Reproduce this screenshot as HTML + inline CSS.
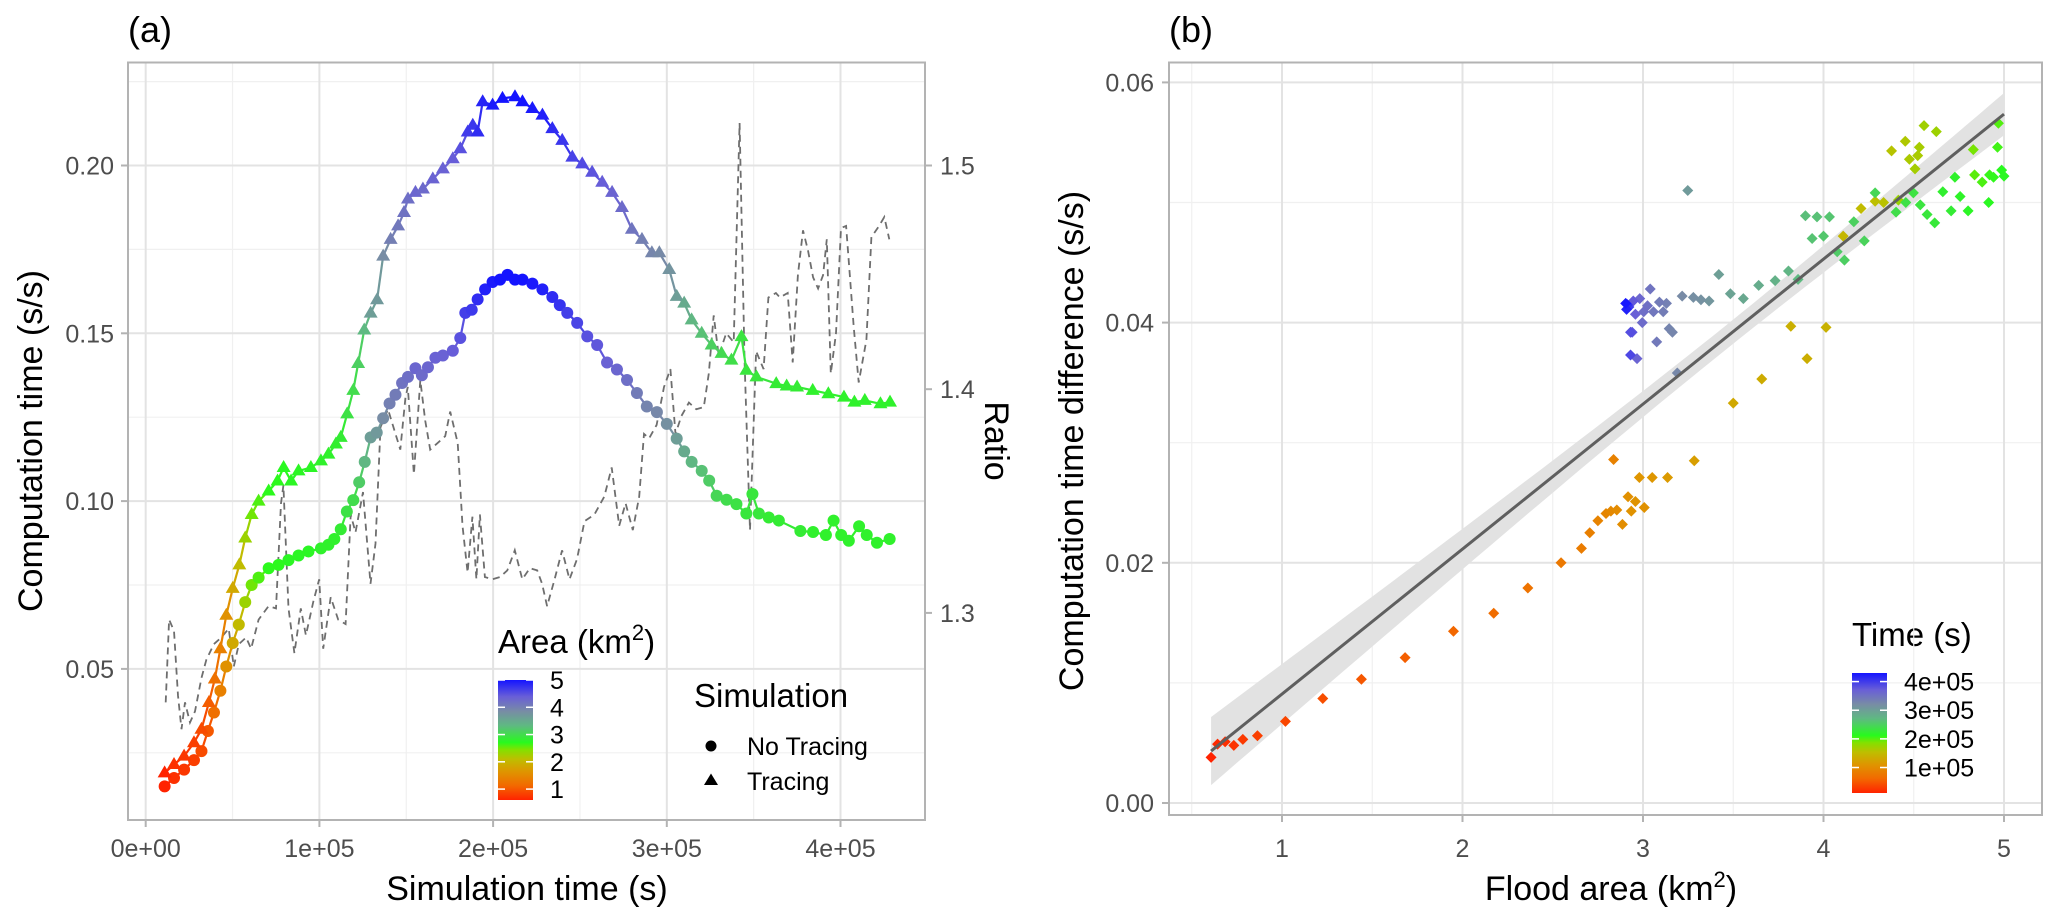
<!DOCTYPE html>
<html><head><meta charset="utf-8"><style>
html,body{margin:0;padding:0;background:#fff;}
svg text{font-family:"Liberation Sans",Arial,sans-serif;}
</style></head><body>
<svg id="fig" width="2067" height="917" viewBox="0 0 2067 917" xmlns="http://www.w3.org/2000/svg">
<defs>
<clipPath id="clipA"><rect x="128" y="62" width="797" height="758"/></clipPath>
<clipPath id="clipB"><rect x="1169" y="62" width="873" height="753"/></clipPath>
<linearGradient id="palGradA" x1="0" y1="1" x2="0" y2="0"></linearGradient>
<linearGradient id="palGradB" x1="0" y1="1" x2="0" y2="0"></linearGradient>
</defs>
<g id="panelA"></g>
<g id="panelB"></g>
</svg>
<script>
// ---------- Panel (a) data (time in 1e3 s) ----------
const noTracingTime = [10.9,16.3,22.1,27.8,32.1,35.8,39.3,43.0,46.4,50.1,53.6,57.3,61.0,65.0,70.8,76.5,82.2,88.0,93.7,100.9,105.2,108.6,112.3,115.8,119.5,122.9,126.1,129.5,133.0,136.7,140.4,143.8,147.6,151.0,155.3,159.0,162.5,166.8,171.1,176.8,181.1,184.0,187.7,191.1,195.4,199.7,204.0,208.3,212.6,216.9,222.6,228.4,234.1,238.4,242.7,248.4,254.2,259.9,265.6,271.3,277.1,282.8,288.5,294.3,300.0,305.7,310.0,314.3,320.1,324.4,328.7,334.4,340.1,345.8,349.3,353.0,358.7,364.5,376.9,384.2,391.6,396.0,400.4,404.8,410.7,415.1,421.0,428.3];
const noTracingValue = [.015,.0175,.020,.0228,.0255,.0315,.037,.0435,.0507,.0577,.0632,.0699,.075,.0772,.080,.081,.0824,.0838,.085,.0859,.087,.0887,.0916,.0969,.1003,.1056,.1117,.119,.1204,.1247,.1291,.1317,.1352,.137,.1396,.1375,.1399,.1427,.1434,.1448,.1486,.1561,.157,.1601,.1631,.1653,.166,.1674,.166,.166,.1648,.1631,.1608,.1584,.1561,.1531,.1491,.1465,.1413,.1392,.1361,.1322,.1282,.1265,.123,.1186,.1148,.1117,.109,.1061,.1016,.1004,.0991,.0963,.1021,.0963,.0951,.0942,.0911,.0908,.0899,.0942,.0899,.0882,.0925,.0899,.0876,.0887];
const areaValue = [0.6,0.7,0.75,0.8,0.9,1.0,1.2,1.4,1.6,1.85,2.05,2.3,2.5,2.6,2.7,2.7,2.75,2.75,2.75,2.8,2.8,2.8,2.85,2.95,3.0,3.15,3.35,3.65,3.7,3.85,4.0,4.05,4.15,4.2,4.3,4.25,4.3,4.35,4.35,4.4,4.5,4.65,4.7,4.8,4.9,4.95,5.0,5.0,5.0,5.0,4.95,4.9,4.8,4.75,4.65,4.6,4.5,4.45,4.35,4.3,4.2,4.05,3.95,3.9,3.8,3.65,3.5,3.35,3.25,3.15,3.05,3.0,2.95,2.9,2.9,2.9,2.85,2.85,2.85,2.8,2.8,2.8,2.8,2.8,2.8,2.8,2.8,2.8];
const tracingTime = [10.9,16.3,22.1,27.8,32.1,36.4,39.8,43.0,46.4,50.1,53.9,57.3,61.0,65.0,70.8,75.9,79.4,83.7,88.0,95.1,100.9,105.2,109.5,112.3,116.0,119.5,122.3,125.8,129.5,133.2,136.7,141.0,145.3,148.7,151.0,155.3,159.6,165.3,171.1,176.8,181.1,185.4,188.3,191.1,194.0,199.7,205.4,212.6,216.9,222.6,228.4,234.1,239.8,245.6,251.3,257.0,262.8,268.5,274.2,279.9,285.7,291.4,295.7,301.4,305.7,310.0,314.3,320.1,325.8,331.5,337.2,343.0,345.8,351.6,363.0,369.0,375.0,384.0,393.0,402.0,408.0,414.0,423.0,428.5];
const tracingValue = [.019,.0215,.024,.028,.032,.040,.047,.056,.066,.074,.081,.089,.096,.100,.103,.106,.110,.106,.109,.110,.112,.114,.117,.119,.126,.133,.141,.151,.156,.160,.173,.178,.182,.186,.190,.192,.193,.196,.199,.202,.205,.210,.212,.210,.219,.218,.220,.2205,.219,.217,.215,.211,.2075,.2025,.2005,.198,.195,.192,.1875,.181,.178,.174,.174,.169,.161,.159,.154,.150,.1465,.144,.142,.149,.139,.137,.135,.1343,.134,.133,.132,.131,.1295,.130,.129,.1295];
const ratioTime = [11.5,13.5,16.3,18.6,20.6,22.6,25.5,28.4,32.1,34.9,39.2,43.5,47.8,50.7,53.6,57.8,60.7,65.0,70.7,75.0,77.9,79.3,82.2,85.6,89.3,92.2,96.5,99.9,102.2,106.5,110.8,115.1,118.0,120.8,125.1,129.4,132.3,135.2,139.5,143.8,146.6,149.5,150.9,154.4,158.1,160.9,163.8,168.1,172.4,175.3,179.6,182.4,185.3,188.1,190.4,192.4,195.3,199.6,203.9,208.2,212.5,216.8,221.1,225.4,228.2,231.1,235.4,239.7,244.0,248.3,252.6,258.3,264.0,268.3,272.6,276.3,280.4,284.1,286.9,289.8,294.1,298.4,302.1,305.0,308.4,312.7,317.0,321.3,324.2,327.0,329.9,334.2,338.5,341.9,344.8,347.9,351.4,355.7,358.5,362.8,365.1,369.6,372.5,375.5,378.4,381.3,384.2,387.1,390.0,392.1,394.4,397.4,400.3,403.2,407.6,410.5,414.9,417.8,422.2,425.2,428.1];
const ratioValue = [1.260,1.297,1.292,1.263,1.248,1.260,1.251,1.256,1.271,1.279,1.286,1.289,1.293,1.276,1.286,1.289,1.284,1.297,1.303,1.302,1.349,1.357,1.302,1.282,1.302,1.290,1.305,1.315,1.284,1.307,1.297,1.295,1.344,1.336,1.354,1.313,1.331,1.383,1.391,1.380,1.373,1.396,1.401,1.362,1.404,1.386,1.373,1.376,1.379,1.390,1.376,1.339,1.318,1.343,1.315,1.344,1.316,1.315,1.316,1.319,1.328,1.315,1.320,1.319,1.313,1.303,1.315,1.328,1.315,1.324,1.341,1.344,1.352,1.365,1.339,1.349,1.337,1.352,1.380,1.378,1.384,1.401,1.409,1.380,1.388,1.394,1.391,1.392,1.407,1.433,1.415,1.425,1.421,1.519,1.412,1.337,1.417,1.409,1.441,1.443,1.441,1.443,1.412,1.451,1.471,1.462,1.450,1.445,1.451,1.467,1.407,1.425,1.472,1.473,1.428,1.403,1.422,1.468,1.473,1.477,1.467];
const xTicksA = [0,100,200,300,400];
const xTickLabelsA = ["0e+00","1e+05","2e+05","3e+05","4e+05"];
const yTicksA = [0.05,0.10,0.15,0.20];
const yTickLabelsA = ["0.05","0.10","0.15","0.20"];
const rTicks = [1.3,1.4,1.5];
const rTickLabels = ["1.3","1.4","1.5"];
const areaLegendTicks = [1,2,3,4,5];

// ---------- Panel (b) data ----------
const floodArea = [0.607,0.643,0.685,0.733,0.783,0.864,1.019,1.226,1.440,1.682,1.950,2.173,2.362,2.546,
2.659,2.705,2.750,2.795,2.822,2.855,2.837,2.886,2.917,2.935,2.958,2.980,3.007,3.051,3.136,3.284,3.500,3.658,3.819,3.909,4.014,4.109,4.208,4.286,4.377,4.453,4.522,4.531,4.476,4.507,4.557,4.625,4.415,4.333,
4.969,4.964,4.830,4.837,4.879,4.920,4.942,4.987,5.000,4.728,4.661,4.757,4.707,4.801,4.915,4.616,4.574,4.536,4.498,4.456,4.402,
4.286,4.168,4.226,4.076,4.116,4.000,3.937,3.900,3.964,4.033,3.859,3.806,3.732,3.641,3.556,3.484,3.420,
3.366,3.321,3.279,3.217,3.248,3.190,
3.145,3.163,3.130,3.112,3.091,3.076,3.058,3.040,3.025,3.004,2.996,2.982,2.967,2.958,2.946,2.940,2.931,2.931,2.922,2.913,2.909,2.904];
const timeDiff = [.0038,.0049,.0051,.0048,.0053,.0056,.0068,.0087,.0103,.0121,.0143,.0158,.0179,.0200,
.0212,.0225,.0235,.0241,.0243,.0244,.0286,.0232,.0255,.0243,.0251,.0271,.0246,.0271,.0271,.0285,.0333,.0353,.0397,.0370,.0396,.0472,.0495,.0501,.0543,.0551,.0539,.0546,.0536,.0528,.0564,.0559,.0502,.0500,
.0566,.0546,.0544,.0523,.0517,.0523,.0521,.0527,.0522,.0521,.0509,.0505,.0493,.0493,.0500,.0483,.0490,.0498,.0508,.0500,.0492,
.0508,.0484,.0468,.0459,.0452,.0472,.0470,.0489,.0488,.0488,.0436,.0443,.0435,.0431,.0420,.0424,.0440,
.0418,.0419,.0421,.0422,.0510,.0358,
.0395,.0392,.0416,.0409,.0417,.0384,.0409,.0428,.0414,.0409,.0400,.0420,.0370,.0407,.0418,.0392,.0392,.0373,.0413,.0415,.0411,.0416];
const pointTime = [11,15,19,23,27,31,36,42,48,54,60,66,72,78,
82,86,90,93,96,99,88,102,105,107,108,110,106,112,116,120,130,134,138,136,140,145,150,154,158,162,165,167,164,168,170,172,174,156,
200,205,190,198,202,208,210,212,215,220,222,218,225,216,214,228,230,232,234,236,238,
245,250,248,255,252,258,262,266,264,260,270,275,280,285,290,295,300,
310,315,318,322,305,325,
330,328,335,338,340,342,345,348,352,355,358,362,366,370,375,380,385,390,400,410,420,428];
const xTicksB = [1,2,3,4,5];
const xTickLabelsB = ["1","2","3","4","5"];
const yTicksB = [0,0.02,0.04,0.06];
const yTickLabelsB = ["0.00","0.02","0.04","0.06"];
const timeLegendTicks = [100,200,300,400];
const timeLegendLabels = ["1e+05","2e+05","3e+05","4e+05"];

// ---------- helpers ----------
const NS = "http://www.w3.org/2000/svg";
function mk(tag, attrs, parent){ const e=document.createElementNS(NS,tag); for(const k in attrs) e.setAttribute(k,attrs[k]); if(parent) parent.appendChild(e); return e; }
const palStops = [[0,[255,35,0]],[0.12,[242,105,0]],[0.24,[222,150,0]],[0.34,[190,190,0]],[0.42,[130,225,0]],[0.48,[40,250,30]],[0.62,[95,185,130]],[0.74,[120,140,165]],[0.86,[105,95,215]],[1,[20,20,255]]];
function pal(t){ t=Math.max(0,Math.min(1,t)); for(let i=1;i<palStops.length;i++){ if(t<=palStops[i][0]){ const a=palStops[i-1],b=palStops[i]; const f=(t-a[0])/(b[0]-a[0]); const c=a[1].map((v,j)=>Math.round(v+(b[1][j]-v)*f)); return `rgb(${c[0]},${c[1]},${c[2]})`; } } return "rgb(20,20,255)"; }
const AREA_MIN=0.6, AREA_MAX=5.0, TIME_MIN=11, TIME_MAX=430;
const areaCol = a => pal((a-AREA_MIN)/(AREA_MAX-AREA_MIN));
const timeCol = t => pal((t-TIME_MIN)/(TIME_MAX-TIME_MIN));
['palGradA','palGradB'].forEach(id=>{ const g=document.getElementById(id); palStops.forEach(s=>mk('stop',{offset:s[0],'stop-color':pal(s[0])},g)); });

// ---------- scales ----------
const xA = t => 145.7 + t*1.737;
const yA = v => 165.5 + (0.20-v)*3356;
const yR = r => 165.5 + (1.5-r)*2237;
const xB = a => 1282 + (a-1)*180.5;
const yB = v => 803 - v*12010;

const A = document.getElementById('panelA');
const B = document.getElementById('panelB');
const gridCol="#e3e3e3", minorCol="#f0f0f0", tickTxt="#4d4d4d";

// ---------- Panel A frame & grid ----------
const gA = mk('g',{},A);


[50,150,250,350].forEach(t=>mk('line',{x1:xA(t),x2:xA(t),y1:62,y2:820,stroke:minorCol,'stroke-width':1.2},gA));
[0.025,0.075,0.125,0.175,0.225].forEach(v=>mk('line',{x1:128,x2:925,y1:yA(v),y2:yA(v),stroke:minorCol,'stroke-width':1.2},gA));
xTicksA.forEach(t=>mk('line',{x1:xA(t),x2:xA(t),y1:62,y2:820,stroke:gridCol,'stroke-width':2},gA));
yTicksA.forEach(v=>mk('line',{x1:128,x2:925,y1:yA(v),y2:yA(v),stroke:gridCol,'stroke-width':2},gA));

const dataA = mk('g',{'clip-path':'url(#clipA)'},A);


const rp = ratioTime.map((t,i)=>`${xA(t).toFixed(1)},${yR(ratioValue[i]).toFixed(1)}`).join(' ');
const rl = mk('polyline',{points:rp,fill:'none',stroke:'#6e6e6e','stroke-width':1.8,'stroke-dasharray':'7,5'},dataA);



function areaAt(t){ if(t<=noTracingTime[0]) return areaValue[0]; for(let i=1;i<noTracingTime.length;i++){ if(t<=noTracingTime[i]){ const f=(t-noTracingTime[i-1])/(noTracingTime[i]-noTracingTime[i-1]); return areaValue[i-1]+(areaValue[i]-areaValue[i-1])*f; } } return areaValue[areaValue.length-1]; }

function series(times, vals, shape, name){
  const g = mk('g',{},dataA);
  
  
  for(let i=0;i<times.length-1;i++){
    const seg = mk('line',{x1:xA(times[i]),y1:yA(vals[i]),x2:xA(times[i+1]),y2:yA(vals[i+1]),stroke:areaCol(areaAt(times[i])),'stroke-width':2.2},g);
    
    
  }
  for(let i=0;i<times.length;i++){
    const x=xA(times[i]), y=yA(vals[i]), c=areaCol(areaAt(times[i]));
    let m;
    if(shape==='circle') m = mk('circle',{cx:x,cy:y,r:6,fill:c},g);
    else m = mk('polygon',{points:`${x},${y-7.5} ${x-7},${y+4.5} ${x+7},${y+4.5}`,fill:c},g);
    
    
  }
}
series(noTracingTime, noTracingValue, 'circle', 'no-tracing-series');
series(tracingTime, tracingValue, 'triangle', 'tracing-series');

const frA = mk('rect',{x:128,y:62.5,width:797,height:757.5,fill:'none',stroke:'#b3b3b3','stroke-width':2},A);



xTicksA.forEach((t,i)=>{
  mk('line',{x1:xA(t),x2:xA(t),y1:820,y2:827,stroke:'#b3b3b3','stroke-width':2},A);
  const tx = mk('text',{x:xA(t),y:857,'text-anchor':'middle','font-size':25,fill:tickTxt},A);
  tx.textContent = xTickLabelsA[i];
  
  
});
yTicksA.forEach((v,i)=>{
  mk('line',{x1:121,x2:128,y1:yA(v),y2:yA(v),stroke:'#b3b3b3','stroke-width':2},A);
  const tx = mk('text',{x:114,y:yA(v)+9,'text-anchor':'end','font-size':25,fill:tickTxt},A);
  tx.textContent = yTickLabelsA[i];
  
  
});
rTicks.forEach((r,i)=>{
  mk('line',{x1:925,x2:932,y1:yR(r),y2:yR(r),stroke:'#b3b3b3','stroke-width':2},A);
  const tx = mk('text',{x:940,y:yR(r)+9,'text-anchor':'start','font-size':25,fill:tickTxt},A);
  tx.textContent = rTickLabels[i];
  
  
});
</script>
<script>
(function(){
const A=document.getElementById('panelA'), B=document.getElementById('panelB');
function T(parent,name,attrs,html){ const e=document.createElementNS("http://www.w3.org/2000/svg",'text'); for(const k in attrs) e.setAttribute(k,attrs[k]); e.innerHTML=html; parent.appendChild(e);


return e;}
T(A,'panel-a-label',{x:128,y:42,'font-size':36},'(a)');
T(A,'x-axis-title-a',{x:527,y:900,'font-size':34,'text-anchor':'middle'},'Simulation time (s)');
T(A,'y-axis-title-a',{transform:'translate(42,441) rotate(-90)','font-size':34,'text-anchor':'middle'},'Computation time (s/s)');
T(A,'ratio-axis-title',{transform:'translate(985,441) rotate(90)','font-size':34,'text-anchor':'middle'},'Ratio');
T(A,'area-legend-title',{x:498,y:653,'font-size':33},'Area (km<tspan dy="-13" font-size="22">2</tspan><tspan dy="13">)</tspan>');
T(A,'simulation-legend-title',{x:694,y:707,'font-size':33},'Simulation');
T(A,'legend-label-no-tracing',{x:747,y:755,'font-size':25},'No Tracing');
T(A,'legend-label-tracing',{x:747,y:790,'font-size':25},'Tracing');
T(B,'panel-b-label',{x:1169,y:42,'font-size':36},'(b)');
T(B,'x-axis-title-b',{x:1611,y:900,'font-size':34,'text-anchor':'middle'},'Flood area (km<tspan dy="-13" font-size="22">2</tspan><tspan dy="13">)</tspan>');
T(B,'y-axis-title-b',{transform:'translate(1083,441) rotate(-90)','font-size':34,'text-anchor':'middle'},'Computation time difference (s/s)');
T(B,'time-legend-title',{x:1852,y:646,'font-size':33},'Time (s)');
})();
</script>
<script>
(function(){
const NS="http://www.w3.org/2000/svg";
function mk(tag, attrs, parent){ const e=document.createElementNS(NS,tag); for(const k in attrs) e.setAttribute(k,attrs[k]); if(parent) parent.appendChild(e); return e; }
const A=document.getElementById('panelA');
const bar = mk('rect',{x:498,y:680,width:35,height:120,fill:'url(#palGradA)'},A);


const yLeg = v => 800 - (v-0.6)/(5.0-0.6)*120;
areaLegendTicks.forEach(v=>{
  mk('line',{x1:498,x2:505,y1:yLeg(v),y2:yLeg(v),stroke:'#fff','stroke-width':1.5},A);
  mk('line',{x1:526,x2:533,y1:yLeg(v),y2:yLeg(v),stroke:'#fff','stroke-width':1.5},A);
  const t=mk('text',{x:550,y:yLeg(v)+9,'font-size':25},A); t.textContent=String(v);
  
  
});
const c=mk('circle',{cx:711,cy:746,r:5.5,fill:'#000'},A);


const tr=mk('polygon',{points:'711,773.5 704,785 718,785',fill:'#000'},A);


})();
</script>
<script>
(function(){
const NS="http://www.w3.org/2000/svg";
function mk(tag, attrs, parent){ const e=document.createElementNS(NS,tag); for(const k in attrs) e.setAttribute(k,attrs[k]); if(parent) parent.appendChild(e); return e; }
const B=document.getElementById('panelB');
const gridCol="#e3e3e3", minorCol="#f0f0f0", tickTxt="#4d4d4d";
const g=mk('g',{},B);


[0.5,1.5,2.5,3.5,4.5].forEach(a=>mk('line',{x1:xB(a),x2:xB(a),y1:62,y2:815,stroke:minorCol,'stroke-width':1.2},g));
[0.01,0.03,0.05].forEach(v=>mk('line',{x1:1169,x2:2042,y1:yB(v),y2:yB(v),stroke:minorCol,'stroke-width':1.2},g));
xTicksB.forEach(a=>mk('line',{x1:xB(a),x2:xB(a),y1:62,y2:815,stroke:gridCol,'stroke-width':2},g));
yTicksB.forEach(v=>mk('line',{x1:1169,x2:2042,y1:yB(v),y2:yB(v),stroke:gridCol,'stroke-width':2},g));

const d=mk('g',{'clip-path':'url(#clipB)'},B);


const n=floodArea.length;
const mx=floodArea.reduce((s,v)=>s+v,0)/n, my=timeDiff.reduce((s,v)=>s+v,0)/n;
let sxx=0,sxy=0; for(let i=0;i<n;i++){ sxx+=(floodArea[i]-mx)**2; sxy+=(floodArea[i]-mx)*(timeDiff[i]-my); }
const b1=sxy/sxx, b0=my-b1*mx;
let sse=0; for(let i=0;i<n;i++){ sse+=(timeDiff[i]-b0-b1*floodArea[i])**2; }
const s=Math.sqrt(sse/(n-2));
const amin=Math.min(...floodArea), amax=Math.max(...floodArea);
const up=[], lo=[];
for(let k=0;k<=60;k++){ const a=amin+(amax-amin)*k/60; const f=b0+b1*a; const se=1.98*s*Math.sqrt(1/n+(a-mx)**2/sxx); up.push(`${xB(a).toFixed(1)},${yB(f+se).toFixed(1)}`); lo.unshift(`${xB(a).toFixed(1)},${yB(f-se).toFixed(1)}`); }
const band=mk('polygon',{points:up.concat(lo).join(' '),fill:'#e2e2e2'},d);


for(let i=0;i<n;i++){
  const x=xB(floodArea[i]), y=yB(timeDiff[i]);
  const p=mk('polygon',{points:`${x},${y-5.5} ${x+5.5},${y} ${x},${y+5.5} ${x-5.5},${y}`,fill:timeCol(pointTime[i])},d);
  
  
}
const fl=mk('line',{x1:xB(amin),y1:yB(b0+b1*amin),x2:xB(amax),y2:yB(b0+b1*amax),stroke:'#5f5f5f','stroke-width':3},d);



const fr=mk('rect',{x:1169,y:62.5,width:873,height:752.5,fill:'none',stroke:'#b3b3b3','stroke-width':2},B);


xTicksB.forEach((a,i)=>{
  mk('line',{x1:xB(a),x2:xB(a),y1:815,y2:822,stroke:'#b3b3b3','stroke-width':2},B);
  const t=mk('text',{x:xB(a),y:857,'text-anchor':'middle','font-size':25,fill:tickTxt},B); t.textContent=xTickLabelsB[i];
  
  
});
yTicksB.forEach((v,i)=>{
  mk('line',{x1:1162,x2:1169,y1:yB(v),y2:yB(v),stroke:'#b3b3b3','stroke-width':2},B);
  const t=mk('text',{x:1154,y:yB(v)+9,'text-anchor':'end','font-size':25,fill:tickTxt},B); t.textContent=yTickLabelsB[i];
  
  
});
const bar=mk('rect',{x:1852,y:673,width:35,height:120,fill:'url(#palGradB)'},B);


const yL = t => 793 - (t-TIME_MIN)/(TIME_MAX-TIME_MIN)*120;
timeLegendTicks.forEach((t,i)=>{
  mk('line',{x1:1852,x2:1859,y1:yL(t),y2:yL(t),stroke:'#fff','stroke-width':1.5},B);
  mk('line',{x1:1880,x2:1887,y1:yL(t),y2:yL(t),stroke:'#fff','stroke-width':1.5},B);
  const tx=mk('text',{x:1904,y:yL(t)+9,'font-size':25},B); tx.textContent=timeLegendLabels[i];
  
  
});
})();
</script>
</body></html>
